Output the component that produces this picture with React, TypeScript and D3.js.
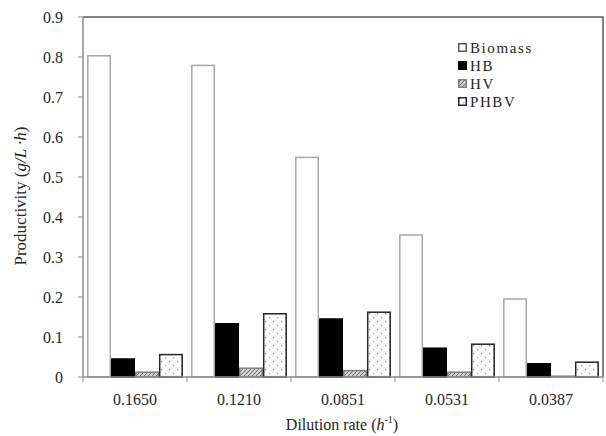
import React from "react"
import * as d3 from "d3"

// data
const categories = ["0.1650", "0.1210", "0.0851", "0.0531", "0.0387"]
const seriesNames = ["Biomass", "HB", "HV", "PHBV"]
const biomass = [0.803, 0.779, 0.549, 0.355, 0.195]
const hb = [0.045, 0.133, 0.145, 0.072, 0.033]
const hv = [0.012, 0.022, 0.016, 0.012, 0.002]
const phbv = [0.056, 0.158, 0.162, 0.082, 0.037]
const yTicks = [0, 0.1, 0.2, 0.3, 0.4, 0.5, 0.6, 0.7, 0.8, 0.9]

const W = 606
const H = 436
const margin = { top: 17, right: 3, bottom: 59, left: 83 }
const font = "'Liberation Serif', 'Times New Roman', serif"

const fills = ["#ffffff", "#000000", "url(#hvPat)", "url(#phbvPat)"]
const strokes = ["#a6a6a6", "#000000", "#7f7f7f", "#262626"]

const App = () => {
	const series = [biomass, hb, hv, phbv]

	const x = d3
		.scaleBand()
		.domain(categories)
		.range([margin.left, W - margin.right])
		.paddingInner(0)
		.paddingOuter(0)

	const inner = d3
		.scaleBand()
		.domain(seriesNames)
		.range([0, x.bandwidth()])
		.paddingOuter(0.17)
		.paddingInner(0)

	const y = d3
		.scaleLinear()
		.domain([0, 0.9])
		.range([H - margin.bottom, margin.top])

	const x0 = margin.left
	const x1 = W - margin.right
	const y0 = y(0)
	const yTop = y(0.9)

	return (
		<svg
			width={W}
			height={H}
			style={{ position: "absolute", left: 0, top: 0, background: "#fff" }}
			fontFamily={font}
		>
			<defs>
				<pattern id="hvPat" width="4" height="4" patternUnits="userSpaceOnUse">
					<rect width="4" height="4" fill="#d0d0d0" />
					<path d="M0,4 L4,0 M-1,1 L1,-1 M3,5 L5,3" stroke="#6e6e6e" strokeWidth="1" />
				</pattern>
				<pattern id="phbvPat" width="8" height="8" patternUnits="userSpaceOnUse">
					<rect width="8" height="8" fill="#fff" />
					<rect x="1" y="1" width="1.3" height="1.3" fill="#9a9a9a" />
					<rect x="5" y="5" width="1.3" height="1.3" fill="#9a9a9a" />
				</pattern>
			</defs>

			{/* frame */}
			<path
				d={`M${x0},${yTop} L${x1},${yTop} L${x1},${y0}`}
				fill="none"
				stroke="#595959"
				strokeWidth={1.5}
			/>

			{/* bars */}
			{categories.map((c, i) => (
				<g key={c}>
					{series.map((vals, s) => {
						const bx = (x(c) as number) + (inner(seriesNames[s]) as number)
						const h = y0 - y(vals[i])
						return (
							<rect
								key={s}
								x={bx + 0.75}
								y={y(vals[i])}
								width={inner.bandwidth() - 1.5}
								height={h}
								fill={fills[s]}
								stroke={strokes[s]}
								strokeWidth={1.5}
							/>
						)
					})}
				</g>
			))}

			{/* axes */}
			<line x1={x0} x2={x0} y1={yTop} y2={y0} stroke="#8c8c8c" strokeWidth={1.5} />
			<line x1={x0} x2={x1} y1={y0} y2={y0} stroke="#8c8c8c" strokeWidth={1.5} />

			{yTicks.map(t => (
				<g key={t}>
					<line x1={x0 - 5} x2={x0} y1={y(t)} y2={y(t)} stroke="#8c8c8c" />
					<text
						x={x0 - 20}
						y={y(t)}
						dy="0.35em"
						textAnchor="end"
						fontSize={16}
						fill="#262626"
					>
						{t === 0 ? "0" : t.toFixed(1)}
					</text>
				</g>
			))}

			{categories.map(c => (
				<line
					key={"t" + c}
					x1={x(c) as number}
					x2={x(c) as number}
					y1={y0}
					y2={y0 + 5}
					stroke="#8c8c8c"
				/>
			))}
			<line x1={x1} x2={x1} y1={y0} y2={y0 + 5} stroke="#8c8c8c" />

			{categories.map(c => (
				<text
					key={"l" + c}
					x={(x(c) as number) + x.bandwidth() / 2}
					y={405}
					textAnchor="middle"
					fontSize={16}
					fill="#262626"
				>
					{c}
				</text>
			))}

			{/* axis titles */}
			<text x={342} y={430} textAnchor="middle" fontSize={16} fill="#262626">
				Dilution rate (<tspan fontStyle="italic">h</tspan>
				<tspan fontSize={10} dy={-7}>-1</tspan>
				<tspan dy={7}>)</tspan>
			</text>
			<text
				transform="translate(26,196) rotate(-90)"
				textAnchor="middle"
				fontSize={17}
				fill="#262626"
			>
				Productivity (<tspan fontStyle="italic">g/L ·h</tspan>)
			</text>

			{/* legend */}
			{seriesNames.map((n, s) => (
				<g key={"lg" + n} transform={`translate(458, ${43 + s * 18})`}>
					<rect
						x={0.75}
						y={0.75}
						width={7.5}
						height={7.5}
						fill={fills[s]}
						stroke={s === 0 ? "#595959" : strokes[s]}
						strokeWidth={1.5}
					/>
					<text
						x={12}
						y={4.5}
						dy="0.35em"
						fontSize={15}
						letterSpacing={1.6}
						fill="#262626"
					>
						{n}
					</text>
				</g>
			))}
		</svg>
	)
}

export default App
